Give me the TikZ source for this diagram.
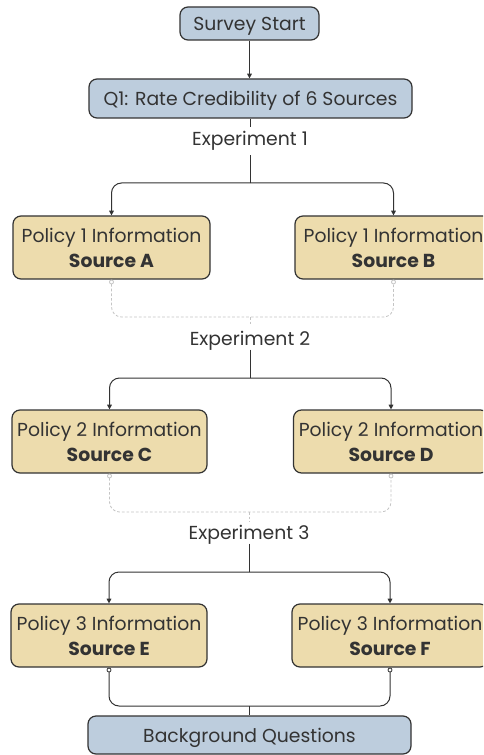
\documentclass[tikz,border=0pt]{standalone}
\usepackage{fontspec}
\setmainfont{Poppins}
\usetikzlibrary{arrows.meta}
\definecolor{bluefill}{HTML}{BDCDDD}
\definecolor{goldfill}{HTML}{EDDCAD}
\definecolor{ink}{HTML}{333333}
\definecolor{dashgray}{HTML}{C4C4C4}
\begin{document}
\begin{tikzpicture}[x=0.75pt,y=-0.75pt,
  box/.style={draw=ink, line width=0.9pt, rounded corners=6pt, text=ink, align=center, inner sep=0pt},
  bluebox/.style={box, fill=bluefill, font=\fontsize{14.1}{16}\selectfont, text height=11pt, text depth=0.2pt},
  goldbox/.style={box, fill=goldfill, minimum width=147.75pt, minimum height=47.25pt, font=\fontsize{14.1}{18.75}\selectfont},
  exptext/.style={text=ink, font=\fontsize{14.1}{16}\selectfont, inner xsep=0pt, inner ysep=2pt, anchor=base},
  conn/.style={draw=ink, line width=0.75pt},
  arr/.style={conn, -{Triangle[length=3.5pt,width=3.5pt]}},
  fork/.style={arr, rounded corners=7.5pt},
  odot/.tip={Circle[open,length=3.6pt,width=3.6pt,line width=0.6pt,fill=white]},
  dsh/.style={draw=dashgray, line width=0.6pt, dash pattern=on 2pt off 1.5pt},
  dfork/.style={dsh, rounded corners=7.5pt, {odot}-{odot}},
  sfork/.style={conn, rounded corners=7.5pt, {odot}-{odot}}
]
\clip (0,0) rectangle (483,755);
\fill[white] (0,0) rectangle (483,755);

% top
\node[bluebox, minimum width=104.25pt, minimum height=24.75pt] (s) at (249.5,23.5) {Survey Start};
\node[bluebox, minimum width=242.25pt, minimum height=29.25pt] (q) at (250.5,98.5) {Q1: Rate Credibility of 6 Sources};
\draw[arr] (s.south) -- (s.south |- q.north);

% experiment 1
\node[exptext, text height=11.8pt, text depth=4.98pt] (e1) at (250,145.7) {Experiment 1};
\coordinate (f1) at (250,183);
\node[goldbox] (a) at (111.5,247.5) {Policy 1 Information\\\textbf{Source A}};
\node[goldbox] (b) at (393.5,247.5) {Policy 1 Information\\\textbf{Source B}};
\draw[conn] (e1.north |- q.south) -- (e1.north);
\draw[conn] (e1.south) -- (f1);
\draw[fork] (f1) -| (a.north);
\draw[fork] (f1) -| (b.north);

% experiment 2
\coordinate (m1) at (250,317);
\draw[dfork] (a.south) |- (m1) -| (b.south);
\node[exptext, text height=11.8pt, text depth=1.2pt] (e2) at (250,345) {Experiment 2};
\draw[dsh] (m1) -- (e2.north);
\coordinate (f2) at (250,378);
\node[goldbox, minimum width=146.25pt] (c) at (109.5,441.5) {Policy 2 Information\\\textbf{Source C}};
\node[goldbox, minimum width=146.25pt] (d) at (391,441.5) {Policy 2 Information\\\textbf{Source D}};
\draw[conn] (e2.south) -- (f2);
\draw[fork] (f2) -| (c.north);
\draw[fork] (f2) -| (d.north);

% experiment 3
\coordinate (m2) at (249,512);
\draw[dfork] (c.south) |- (m2) -| (d.south);
\node[exptext, text height=11.2pt, text depth=1pt] (e3) at (249,539.3) {Experiment 3};
\draw[dsh] (m2) -- (e3.north);
\coordinate (f3) at (249,572);
\node[goldbox, minimum width=147pt] (e) at (109,635.5) {Policy 3 Information\\\textbf{Source E}};
\node[goldbox, minimum width=147pt] (f) at (390,635.5) {Policy 3 Information\\\textbf{Source F}};
\draw[conn] (e3.south) -- (f3);
\draw[fork] (f3) -| (e.north);
\draw[fork] (f3) -| (f.north);

% bottom
\coordinate (m3) at (249,706);
\node[bluebox, minimum width=242.25pt, minimum height=28.5pt] (bg) at (249.5,735) {Background Questions};
\draw[sfork] (e.south) |- (m3) -| (f.south);
\draw[conn] (m3) -- (m3 |- bg.north);
\end{tikzpicture}
\end{document}
